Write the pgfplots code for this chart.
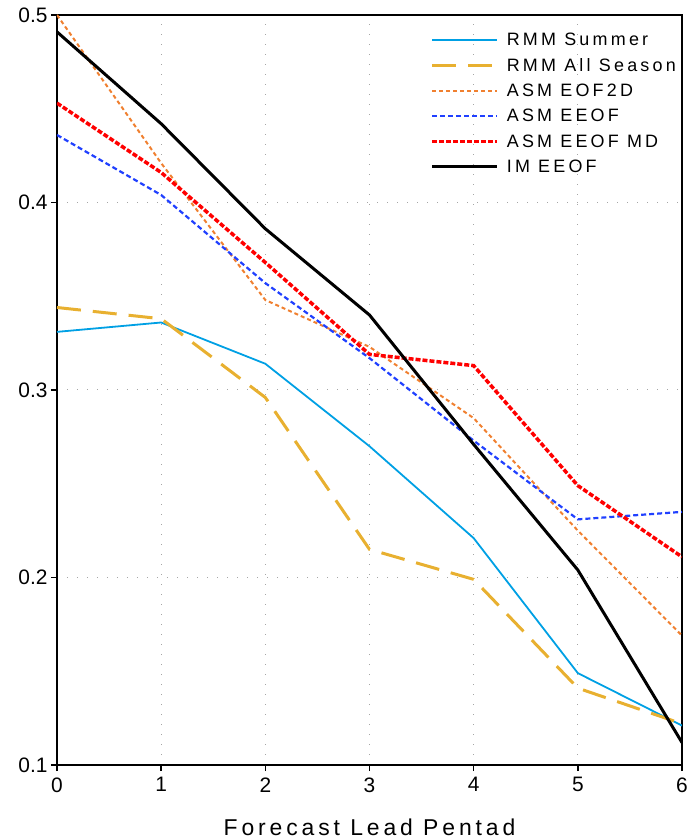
\documentclass[border=0pt]{standalone}
\usepackage{fontspec}
\setmainfont{Liberation Sans}
\usepackage{pgfplots}
\pgfplotsset{compat=1.18}
\definecolor{csum}{RGB}{0,160,228}
\definecolor{call}{RGB}{232,176,48}
\definecolor{ceof}{RGB}{240,128,48}
\definecolor{ceeof}{RGB}{32,64,255}
\definecolor{cmd}{RGB}{255,0,0}
\begin{document}
\begin{tikzpicture}
\begin{axis}[
  at={(0,0)}, anchor=south west,
  scale only axis,
  width=625bp, height=750bp,
  xmin=0, xmax=6, ymin=0.1, ymax=0.5,
  xtick={0,1,2,3,4,5,6},
  ytick={0.1,0.2,0.3,0.4,0.5},
  yticklabel style={/pgf/number format/fixed,/pgf/number format/precision=1},
  xticklabel style={yshift=-3bp},
  /pgf/number format/assume math mode=true,
  tick label style={font=\fontsize{21}{23}\selectfont},
  tick align=outside,
  major tick length=6bp,
  tick style={line width=1.5bp, black},
  xtick pos=bottom, ytick pos=left,
  axis line style={line width=2bp},
  grid=major,
  major grid style={gray!70, line width=1bp, dash pattern=on 1bp off 9bp},
  xlabel={\addfontfeature{LetterSpace=17}Forecast Lead Pentad},
  xlabel style={font=\fontsize{23}{25}\selectfont, yshift=-20bp},
  legend cell align=left,
  legend style={draw=none, fill=none, at={(0.597,0.9785)}, anchor=north west,
    inner sep=0pt, row sep=7.2bp,
    font=\fontsize{18}{21}\selectfont\addfontfeature{LetterSpace=18}},
  legend image code/.code={\draw[#1] (0bp,0bp) -- (65bp,0bp); \path (71bp,0bp);},
  clip=true,
]
\addplot[csum, line width=1.8bp] coordinates {(0,0.331) (1,0.336) (2,0.314) (3,0.270) (4,0.221) (5,0.149) (6,0.121)};
\addlegendentry{RMM Summer}
\addplot[call, line width=3bp, dash pattern=on 24bp off 12bp] coordinates {(0,0.344) (1,0.338) (2,0.296) (3,0.215) (4,0.199) (5,0.141) (6,0.122)};
\addlegendentry{RMM All Season}
\addplot[ceof, line width=2bp, dash pattern=on 4bp off 3bp] coordinates {(0,0.500) (1,0.421) (2,0.348) (3,0.323) (4,0.285) (5,0.225) (6,0.169)};
\addlegendentry{ASM EOF2D}
\addplot[ceeof, line width=2.2bp, dash pattern=on 5bp off 3bp] coordinates {(0,0.436) (1,0.404) (2,0.357) (3,0.317) (4,0.273) (5,0.231) (6,0.235)};
\addlegendentry{ASM EEOF}
\addplot[cmd, line width=3.5bp, dash pattern=on 5bp off 2bp] coordinates {(0,0.453) (1,0.416) (2,0.368) (3,0.319) (4,0.313) (5,0.249) (6,0.211)};
\addlegendentry{ASM EEOF MD}
\addplot[black, line width=3bp] coordinates {(0,0.491) (1,0.442) (2,0.386) (3,0.340) (4,0.271) (5,0.204) (6,0.112)};
\addlegendentry{IM EEOF}
\end{axis}
\pgfresetboundingbox
\path (-57bp,-75bp) rectangle (631bp,765bp);
\end{tikzpicture}
\end{document}
